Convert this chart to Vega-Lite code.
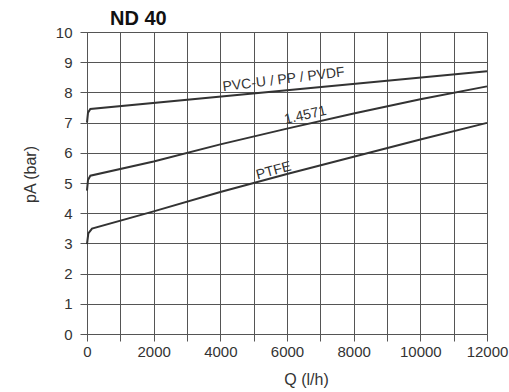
{
  "$schema": "https://vega.github.io/schema/vega-lite/v6.json",
  "autosize": "none",
  "width": 400,
  "height": 302,
  "padding": {"left": 87, "top": 32, "right": 22, "bottom": 58},
  "background": "white",
  "config": {
    "view": {"stroke": null},
    "font": "Liberation Sans"
  },
  "title": {"text": "ND 40", "anchor": "start", "frame": "group", "dx": 23, "dy": 8, "fontSize": 20, "fontWeight": "bold", "color": "#111", "offset": 4, "font": "Liberation Sans"},
  "datasets": {
    "curves": [
      {"series": "PVC", "Q": 0, "pA": 7.0},
      {"series": "PVC", "Q": 30, "pA": 7.33},
      {"series": "PVC", "Q": 100, "pA": 7.45},
      {"series": "PVC", "Q": 6000, "pA": 8.07},
      {"series": "PVC", "Q": 12000, "pA": 8.7},
      {"series": "SS", "Q": 0, "pA": 4.75},
      {"series": "SS", "Q": 30, "pA": 5.1},
      {"series": "SS", "Q": 100, "pA": 5.24},
      {"series": "SS", "Q": 2000, "pA": 5.71},
      {"series": "SS", "Q": 4000, "pA": 6.28},
      {"series": "SS", "Q": 6000, "pA": 6.8},
      {"series": "SS", "Q": 8000, "pA": 7.3},
      {"series": "SS", "Q": 10000, "pA": 7.77},
      {"series": "SS", "Q": 12000, "pA": 8.2},
      {"series": "PTFE", "Q": 0, "pA": 2.98},
      {"series": "PTFE", "Q": 40, "pA": 3.33},
      {"series": "PTFE", "Q": 150, "pA": 3.49},
      {"series": "PTFE", "Q": 2000, "pA": 4.06},
      {"series": "PTFE", "Q": 4000, "pA": 4.7},
      {"series": "PTFE", "Q": 6000, "pA": 5.3},
      {"series": "PTFE", "Q": 8000, "pA": 5.87},
      {"series": "PTFE", "Q": 10000, "pA": 6.44},
      {"series": "PTFE", "Q": 12000, "pA": 6.99}
    ],
    "labels": [
      {"text": "PVC-U / PP / PVDF", "Q": 5900, "pA": 8.42, "angle": -7},
      {"text": "1.4571", "Q": 6550, "pA": 7.24, "angle": -13},
      {"text": "PTFE", "Q": 5600, "pA": 5.4, "angle": -15}
    ]
  },
  "encoding": {
    "x": {
      "field": "Q", "type": "quantitative",
      "scale": {"domain": [0, 12000], "nice": false},
      "axis": {
        "title": "Q (l/h)",
        "values": [0, 1000, 2000, 3000, 4000, 5000, 6000, 7000, 8000, 9000, 10000, 11000, 12000],
        "format": "d",
        "labelExpr": "datum.value % 2000 == 0 ? datum.label : ''",
        "labelOverlap": false,
        "labelFlush": false,
        "grid": true, "gridColor": "#555555", "gridOpacity": 1, "gridWidth": 1,
        "domainColor": "#555555", "tickColor": "#555555", "tickSize": 7,
        "labelFont": "Liberation Sans", "labelFontSize": 15, "labelColor": "#333333", "labelPadding": 3,
        "titleFont": "Liberation Sans", "titleFontSize": 16, "titleFontWeight": "normal", "titleColor": "#333333",
        "titleX": 219, "titleY": 37, "titleBaseline": "top", "titleAlign": "center"
      }
    },
    "y": {
      "field": "pA", "type": "quantitative",
      "scale": {"domain": [0, 10], "nice": false},
      "axis": {
        "title": "pA (bar)",
        "values": [0, 1, 2, 3, 4, 5, 6, 7, 8, 9, 10],
        "labelOverlap": false,
        "labelFlush": false,
        "grid": true, "gridColor": "#555555", "gridOpacity": 1, "gridWidth": 1,
        "domainColor": "#555555", "tickColor": "#555555", "tickSize": 7,
        "labelFont": "Liberation Sans", "labelFontSize": 15, "labelColor": "#333333", "labelPadding": 8,
        "titleFont": "Liberation Sans", "titleFontSize": 16, "titleFontWeight": "normal", "titleColor": "#333333",
        "titleX": -57, "titleY": 142, "titleBaseline": "middle", "titleAlign": "center", "titleAngle": -90
      }
    }
  },
  "layer": [
    {
      "data": {"name": "curves"},
      "mark": {"type": "line", "color": "#333333", "strokeWidth": 2},
      "encoding": {
        "detail": {"field": "series"}
      }
    },
    {
      "data": {"name": "labels"},
      "mark": {"type": "text", "fontSize": 14, "font": "Liberation Sans", "color": "#333333", "align": "center", "baseline": "middle"},
      "encoding": {
        "text": {"field": "text"},
        "angle": {"field": "angle", "type": "quantitative", "scale": null}
      }
    }
  ]
}
